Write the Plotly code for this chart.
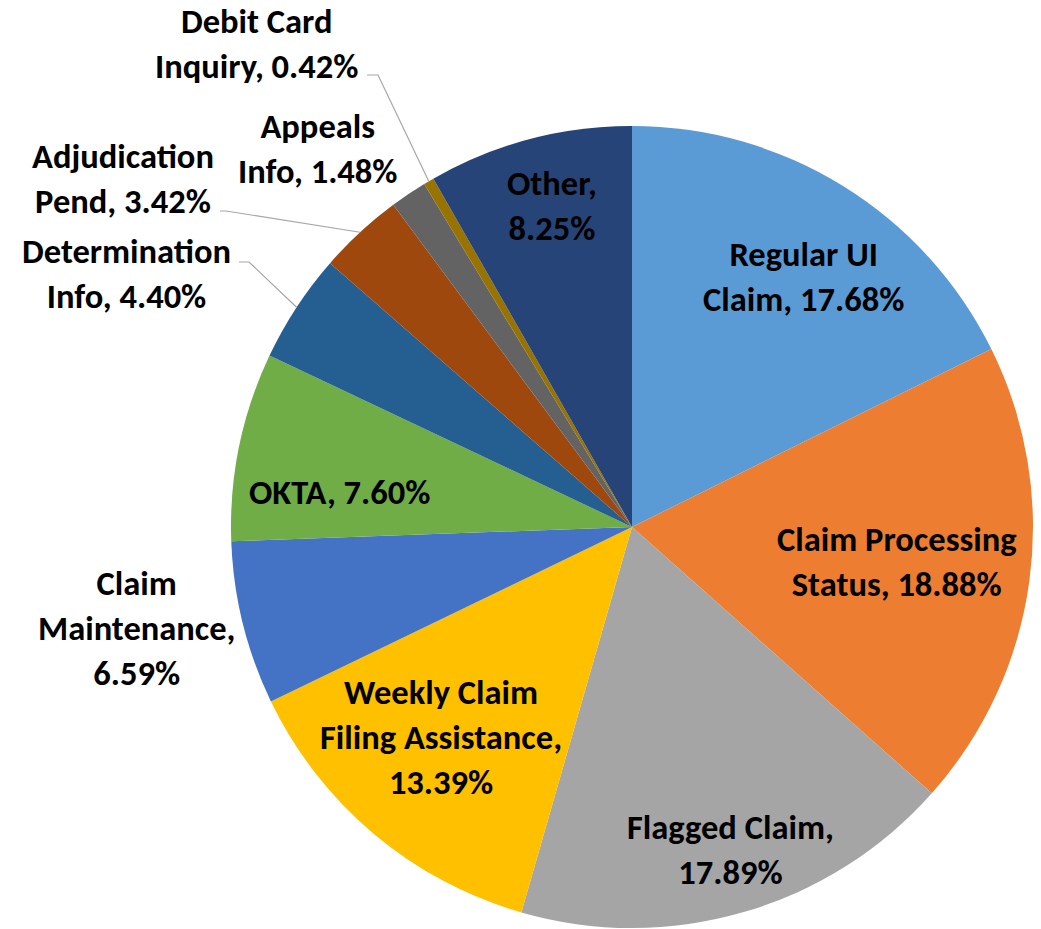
import math
import plotly.graph_objects as go

# ---- data ----
categories = ["Regular UI Claim", "Claim Processing Status", "Flagged Claim",
              "Weekly Claim Filing Assistance", "Claim Maintenance", "OKTA",
              "Determination Info", "Adjudication Pend", "Appeals Info",
              "Debit Card Inquiry", "Other"]
shares = [17.68, 18.88, 17.89, 13.39, 6.59, 7.60, 4.40, 3.42, 1.48, 0.42, 8.25]
label_layouts = ["Regular UI<br>Claim, {p}", "Claim Processing<br>Status, {p}",
                 "Flagged Claim,<br>{p}", "Weekly Claim<br>Filing Assistance,<br>{p}",
                 "Claim<br>Maintenance,<br>{p}", "OKTA, {p}",
                 "Determination<br>Info, {p}", "Adjudication<br>Pend, {p}",
                 "Appeals<br>Info, {p}", "Debit Card<br>Inquiry, {p}", "Other,<br>{p}"]

# ---- styles / layout ----
colors = ["#5B9BD5", "#ED7D31", "#A5A5A5", "#FFC000", "#4472C4", "#70AD47",
          "#255E91", "#9E480E", "#636363", "#997300", "#264478"]
W, H = 1041, 929
CX, CY, R = 632, 527, 401
# label centre positions in pixels
label_pos = [(803, 276), (897, 561), (730, 849), (441, 737), (137, 628), (339, 492),
             (126, 273), (123, 179), (317, 148), (256, 43), (552, 205)]
# leader line start points (pixels) for outside labels: index -> (start, bend)
leaders = {6: ((239, 262), (249, 262)), 7: ((220, 211), (226, 211)),
           9: ((367, 75), (378, 75))}
FONT = "Carlito, Lato, Calibri, sans-serif"
FONT_SIZE = 34.5

def px(x):
    return x / W

def py(y):
    return 1 - y / H

fig = go.Figure(go.Pie(
    labels=categories, values=shares, sort=False, direction="clockwise",
    rotation=0, marker=dict(colors=colors, line=dict(width=0)),
    textinfo="none", hoverinfo="label+percent", showlegend=False,
    domain=dict(x=[px(CX - R), px(CX + R)], y=[py(CY + R), py(CY - R)]),
))

annotations = []
for i, (lay, (x, y)) in enumerate(zip(label_layouts, label_pos)):
    annotations.append(dict(
        x=px(x), y=py(y), xref="paper", yref="paper", showarrow=False,
        text="<b>" + lay.format(p=f"{shares[i]:.2f}%") + "</b>",
        font=dict(family=FONT, size=FONT_SIZE, color="#000000"), align="center",
        xanchor="center", yanchor="middle"))

shapes = []
total = sum(shares)
cum = 0
mids = []
for v in shares:
    mids.append((cum + v / 2) / total * 360)
    cum += v
for i, (start, bend) in leaders.items():
    ang = math.radians(mids[i])
    ex = CX + R * math.sin(ang)
    ey = CY - R * math.cos(ang)
    pts = [start, bend, (ex, ey)]
    path = "M " + " L ".join(f"{px(a)},{py(b)}" for a, b in pts)
    shapes.append(dict(type="path", xref="paper", yref="paper", path=path,
                       line=dict(color="#A6A6A6", width=1.2)))

fig.update_layout(
    width=W, height=H, margin=dict(l=0, r=0, t=0, b=0),
    paper_bgcolor="white", plot_bgcolor="white",
    annotations=annotations, shapes=shapes,
)
fig.write_html("out.html", config={"displayModeBar": False},
               post_script="document.body.style.margin='0';document.body.style.overflow='hidden';")
